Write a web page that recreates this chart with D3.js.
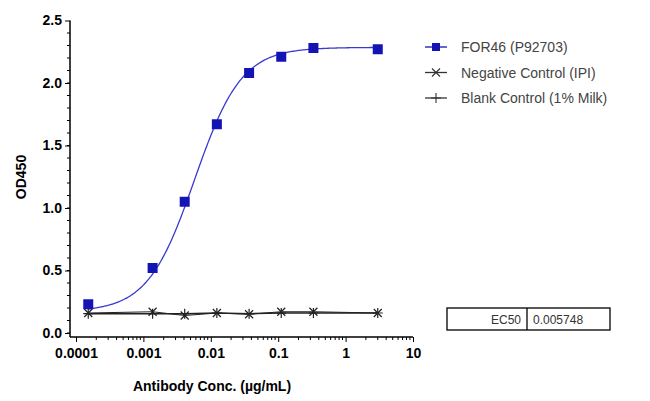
<!DOCTYPE html>
<html><head><meta charset="utf-8">
<script src="https://cdn.jsdelivr.net/npm/d3@7"></script>
<style>body{margin:0;background:#fff}svg{font-family:"Liberation Sans",Arial,sans-serif}</style>
</head><body><svg id="c" width="650" height="401"></svg>
<script>
// concentrations (ug/mL), 3-fold dilution series
const conc = [0.000152, 0.00137, 0.0041, 0.0123, 0.037, 0.111, 0.333, 3];
const for46 = [0.23, 0.52, 1.05, 1.67, 2.08, 2.21, 2.28, 2.27];
const negCtrl = [0.16, 0.17, 0.14, 0.16, 0.15, 0.17, 0.17, 0.16];
const blank = [0.155, 0.155, 0.155, 0.16, 0.155, 0.16, 0.16, 0.16];
const xTicks = [0.0001, 0.001, 0.01, 0.1, 1, 10];
const yTicks = [0, 0.5, 1.0, 1.5, 2.0, 2.5];
const legendNames = ['FOR46 (P92703)', 'Negative Control (IPI)', 'Blank Control (1% Milk)'];
// 4PL fit parameters
const fit = {bottom: 0.17, top: 2.285, ec50: 0.005748, hill: 1.25};

const svg = d3.select('#c');
const x = d3.scaleLog().domain([0.0001, 10]).range([76, 413]);
const y = d3.scaleLinear().domain([0, 2.5]).range([333, 20.5]);

// axes
const xAxis = d3.axisBottom(x).tickValues(xTicks).tickFormat(d => String(d)).tickSize(5);
const gx = svg.append('g').attr('transform', 'translate(0,337)').call(xAxis);
const minor = [];
for (let e = -4; e < 1; e++) for (let k = 2; k <= 9; k++) minor.push(k * Math.pow(10, e));
gx.selectAll('.minor').data(minor).enter().append('line')
  .attr('x1', d => x(d)).attr('x2', d => x(d)).attr('y1', 0).attr('y2', 3).attr('stroke', '#000');
gx.select('.domain').attr('d', 'M70,0H413').attr('stroke-width', 1.5);
gx.selectAll('.tick text').attr('font-size', 14).attr('font-weight', 'bold').attr('dy', '0.9em');

const yAxis = d3.axisLeft(y).tickValues(yTicks).tickFormat(d3.format('.1f')).tickSize(5);
const gy = svg.append('g').attr('transform', 'translate(70,0)').call(yAxis);
gy.selectAll('.yminor').data(d3.range(0, 2.5, 0.1)).enter().append('line')
  .attr('x1', 0).attr('x2', -3).attr('y1', d => y(d)).attr('y2', d => y(d)).attr('stroke', '#000');
gy.select('.domain').attr('d', 'M0,' + y(2.5) + 'V337').attr('stroke-width', 1.5);
gy.selectAll('.tick text').attr('font-size', 14).attr('font-weight', 'bold');

svg.append('text').attr('x', 212).attr('y', 391).attr('text-anchor', 'middle')
  .attr('font-size', 14).attr('font-weight', 'bold').text('Antibody Conc. (µg/mL)');
svg.append('text').attr('transform', 'translate(26,177) rotate(-90)').attr('text-anchor', 'middle')
  .attr('font-size', 14).attr('font-weight', 'bold').text('OD450');

// fitted curve
const curveX = d3.range(Math.log10(conc[0]), Math.log10(3) + 0.001, 0.02).map(v => Math.pow(10, v));
const f4 = c => fit.bottom + (fit.top - fit.bottom) / (1 + Math.pow(fit.ec50 / c, fit.hill));
svg.append('path').datum(curveX)
  .attr('d', d3.line().x(d => x(d)).y(d => y(f4(d))).curve(d3.curveBasis))
  .attr('fill', 'none').attr('stroke', '#3a3ad0').attr('stroke-width', 1.3);

// control lines
const line = d3.line().x((d, i) => x(conc[i])).y(d => y(d));
svg.append('path').datum(blank).attr('d', line).attr('fill', 'none').attr('stroke', '#222').attr('stroke-width', 1.5);
svg.append('path').datum(negCtrl).attr('d', line).attr('fill', 'none').attr('stroke', '#222').attr('stroke-width', 1);

const plusPath = 'M-5,0H5M0,-5V5';
const timesPath = 'M-4,-4L4,4M-4,4L4,-4';
svg.append('g').selectAll('path').data(blank).enter().append('path')
  .attr('d', plusPath).attr('transform', (d, i) => `translate(${x(conc[i])},${y(d)})`)
  .attr('stroke', '#222').attr('stroke-width', 1.2);
svg.append('g').selectAll('path').data(negCtrl).enter().append('path')
  .attr('d', timesPath).attr('transform', (d, i) => `translate(${x(conc[i])},${y(d)})`)
  .attr('stroke', '#222').attr('stroke-width', 1.2);

// FOR46 squares
svg.append('g').selectAll('rect').data(for46).enter().append('rect')
  .attr('x', (d, i) => x(conc[i]) - 5).attr('y', d => y(d) - 5)
  .attr('width', 10).attr('height', 10).attr('fill', '#1414b4');

// legend
const lg = svg.append('g').attr('transform', 'translate(425,47)');
legendNames.forEach((n, i) => {
  const g = lg.append('g').attr('transform', `translate(0,${i * 25.5})`);
  g.append('line').attr('x1', 0).attr('x2', 22).attr('stroke', i ? '#333' : '#1414b4').attr('stroke-width', 1.3);
  if (i === 0) g.append('rect').attr('x', 7).attr('y', -4).attr('width', 8).attr('height', 8).attr('fill', '#1414b4');
  else g.append('path').attr('d', i === 1 ? timesPath : plusPath).attr('transform', 'translate(11,0)')
    .attr('stroke', '#333').attr('stroke-width', 1.1);
  g.append('text').attr('x', 36).attr('y', 5).attr('font-size', 14).attr('fill', '#444').text(n);
});

// EC50 table
const tb = svg.append('g').attr('transform', 'translate(447,308)');
tb.append('rect').attr('width', 163).attr('height', 22).attr('fill', 'none').attr('stroke', '#000').attr('stroke-width', 1.3);
tb.append('line').attr('x1', 80).attr('x2', 80).attr('y1', 0).attr('y2', 22).attr('stroke', '#000').attr('stroke-width', 1.3);
tb.append('text').attr('x', 74).attr('y', 16).attr('text-anchor', 'end').attr('font-size', 12).attr('fill', '#333').text('EC50');
tb.append('text').attr('x', 86).attr('y', 16).attr('font-size', 12).attr('fill', '#333').text(String(fit.ec50));
</script></body></html>
